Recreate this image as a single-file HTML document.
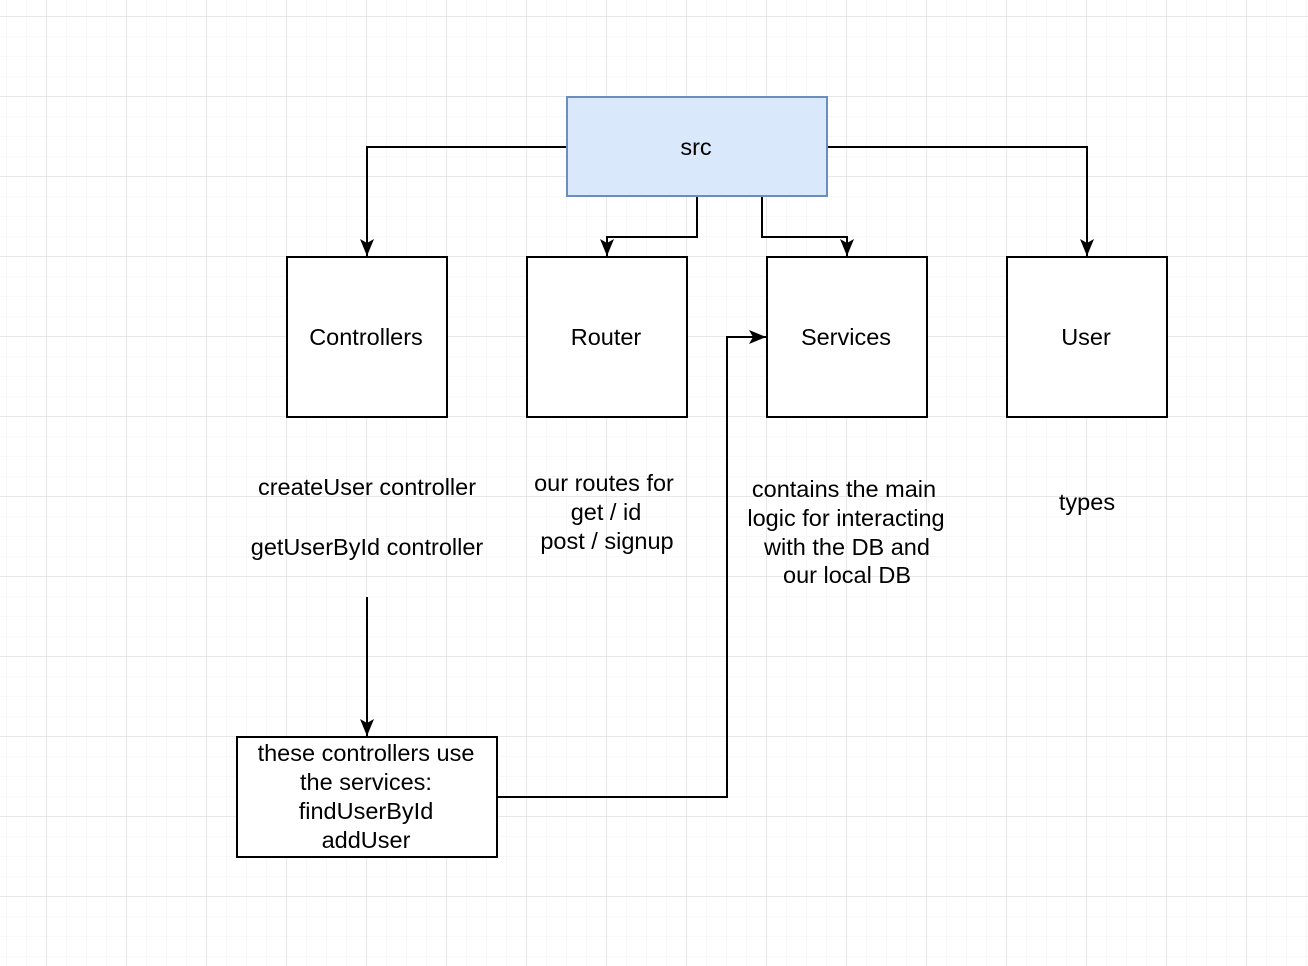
<!DOCTYPE html>
<html><head><style>
html,body{margin:0;padding:0;background:#fff;}
svg{display:block;}
text{font-family:"Liberation Sans",Arial,sans-serif;font-size:23.5px;fill:#000;}
</style></head><body>
<svg width="1308" height="966" xmlns="http://www.w3.org/2000/svg">
<defs>
<pattern id="minor" width="20" height="20" patternUnits="userSpaceOnUse" x="6" y="16">
<path d="M0 0H20M0 0V20" stroke="#f0f0f0" stroke-width="1" fill="none"/>
</pattern>
<pattern id="major" width="80" height="80" patternUnits="userSpaceOnUse" x="46" y="16">
<path d="M0 0H80M0 0V80" stroke="#d0d0d0" stroke-width="1" fill="none"/>
</pattern>
<marker id="a" markerWidth="18" markerHeight="16" refX="17" refY="8" orient="auto" markerUnits="userSpaceOnUse">
<path d="M0 1L17 8L0 15L4 8Z" fill="#000"/>
</marker>
</defs>
<rect width="1308" height="966" fill="url(#minor)"/>
<rect width="1308" height="966" fill="url(#major)"/>
<g fill="none" stroke="#000" stroke-width="2">
<path d="M567 147H367V256" marker-end="url(#a)"/>
<path d="M827 147H1087V256" marker-end="url(#a)"/>
<path d="M697 197V237H607V256" marker-end="url(#a)"/>
<path d="M762 197V237H847V256" marker-end="url(#a)"/>
<path d="M367 597V736" marker-end="url(#a)"/>
<path d="M497 797H727V337H766" marker-end="url(#a)"/>
</g>
<rect x="567" y="97" width="260" height="99" fill="#dae8fc" stroke="#6c8ebf" stroke-width="2"/>
<g fill="#fff" stroke="#000" stroke-width="2">
<rect x="287" y="257" width="160" height="160"/>
<rect x="527" y="257" width="160" height="160"/>
<rect x="767" y="257" width="160" height="160"/>
<rect x="1007" y="257" width="160" height="160"/>
<rect x="237" y="737" width="260" height="120"/>
</g>
<g text-anchor="middle">
<text x="696" y="155">src</text>
<text x="366" y="345">Controllers</text>
<text x="606" y="345">Router</text>
<text x="846" y="345">Services</text>
<text x="1086" y="345">User</text>
<text x="367" y="495">createUser controller</text>
<text x="367" y="555">getUserById controller</text>
<text x="604" y="491">our routes for</text>
<text x="606" y="520">get / id</text>
<text x="607" y="549">post / signup</text>
<text x="844" y="497">contains the main</text>
<text x="846" y="526">logic for interacting</text>
<text x="847" y="555">with the DB and</text>
<text x="847" y="583">our local DB</text>
<text x="1087" y="510">types</text>
<text x="366" y="761">these controllers use</text>
<text x="366" y="790">the services:</text>
<text x="366" y="819">findUserById</text>
<text x="366" y="848">addUser</text>
</g>
</svg>
</body></html>
